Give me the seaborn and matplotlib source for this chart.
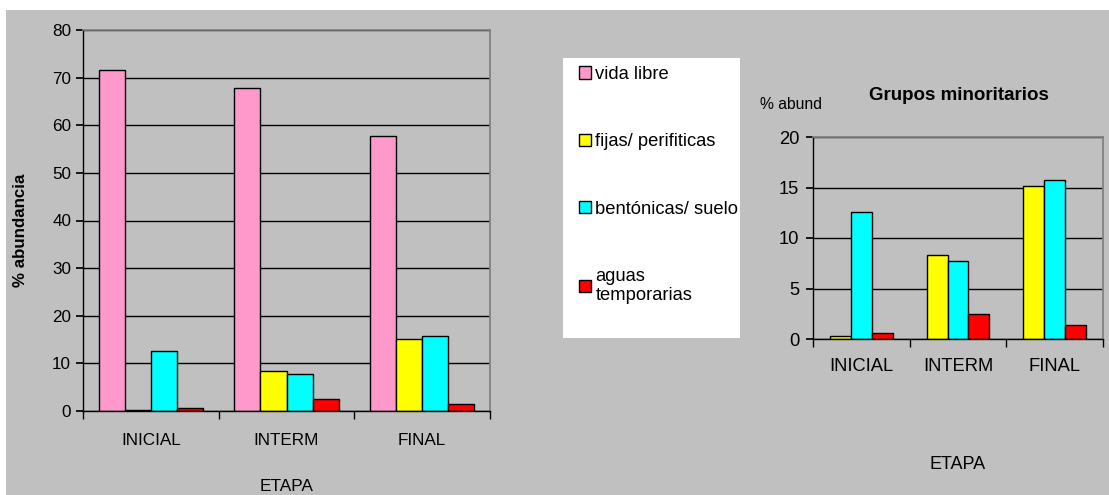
import numpy as np
import pandas as pd
import seaborn as sns
import matplotlib.pyplot as plt
from matplotlib.patches import Rectangle

# data
stages = ["INICIAL", "INTERM", "FINAL"]
vida_libre = [71.6, 67.9, 57.7]
fijas = [0.3, 8.3, 15.1]
bentonicas = [12.6, 7.7, 15.7]
aguas = [0.6, 2.5, 1.4]

groups = ["vida libre", "fijas/ perifiticas", "bentónicas/ suelo", "aguas\ntemporarias"]
colors = ["#FF99CC", "#FFFF00", "#00FFFF", "#FF0000"]

df = pd.DataFrame({
    "etapa": stages * 4,
    "grupo": np.repeat(groups, 3),
    "valor": vida_libre + fijas + bentonicas + aguas,
})
df_min = df[df["grupo"] != groups[0]]

sns.set_theme(style="white")
plt.rcParams['font.family'] = ['Liberation Sans', 'DejaVu Sans']
plt.rcParams['font.size'] = 12
for k in ["text.color", "axes.labelcolor", "xtick.color", "ytick.color"]:
    plt.rcParams[k] = "black"

fig = plt.figure(figsize=(11.09, 4.95), dpi=100)
fig.patch.set_facecolor("white")
fig.patches.append(Rectangle((6 / 1109, 0), 1 - 6 / 1109, 1 - 10 / 495,
                             transform=fig.transFigure, facecolor="#C0C0C0",
                             edgecolor="none", zorder=-2))
# white legend box
fig.patches.append(Rectangle((563 / 1109, 1 - 338 / 495), 177 / 1109, 280 / 495,
                             transform=fig.transFigure, facecolor="white",
                             edgecolor="none", zorder=-1))

ax1 = fig.add_axes([83 / 1109, 1 - 411 / 495, 407 / 1109, 381 / 495])
ax2 = fig.add_axes([813 / 1109, 1 - 339 / 495, 290 / 1109, 202 / 495])


def style_axes(ax, ymax, step, fs, xpad, ypad):
    ax.set_facecolor("#C0C0C0")
    ax.set_xlim(-0.5, 2.5)
    ax.set_ylim(0, ymax)
    ax.set_yticks(np.arange(0, ymax + 1, step))
    ax.yaxis.grid(True, color="black", linewidth=1)
    ax.set_axisbelow(True)
    for s in ["top", "right"]:
        ax.spines[s].set_color("#808080")
    for s in ["left", "bottom"]:
        ax.spines[s].set_color("black")
        ax.spines[s].set_linewidth(1)
    ax.tick_params(axis="y", which="major", direction="out", length=5,
                   color="black", left=True, labelsize=fs, pad=ypad)
    ax.tick_params(axis="x", which="major", length=0, labelsize=fs, pad=xpad)
    ax.set_xticks([-0.5, 0.5, 1.5, 2.5], minor=True)
    ax.tick_params(axis="x", which="minor", direction="out", length=6,
                   color="black", bottom=True)


sns.barplot(data=df, x="etapa", y="valor", hue="grupo", palette=colors,
            width=0.77, edgecolor="black", linewidth=1, saturation=1,
            ax=ax1, legend=True)
style_axes(ax1, 80, 10, 12.3, 15.5, 3.5)
ax1.set_xlabel("ETAPA", fontsize=12.4, labelpad=22.5)
ax1.set_ylabel("% abundancia", fontsize=12.2, fontweight="bold")
ax1.yaxis.set_label_coords(-0.135, 0.475)

handles, labels = ax1.get_legend_handles_labels()
ax1.get_legend().remove()
fig.legend(handles, labels, loc="upper left",
           bbox_to_anchor=(570 / 1109, 1 - 57 / 495), frameon=False,
           fontsize=13.2, labelspacing=2.74, handlelength=0.67,
           handleheight=0.67, handletextpad=0.22, borderpad=0)

sns.barplot(data=df_min, x="etapa", y="valor", hue="grupo", palette=colors[1:],
            width=0.65, edgecolor="black", linewidth=1, saturation=1,
            ax=ax2, legend=False)
style_axes(ax2, 20, 5, 13.2, 13.5, 5)
ax2.set_xlabel("ETAPA", fontsize=13, labelpad=58.5)
ax2.set_ylabel("")
ax2.text(-0.183, 1.16, "% abund", transform=ax2.transAxes, ha="left",
         va="center", fontsize=11.3)
ax2.text(0.503, 1.205, "Grupos minoritarios", transform=ax2.transAxes,
         ha="center", va="center", fontsize=13.5, fontweight="bold")

fig.savefig("out.png", dpi=100)
